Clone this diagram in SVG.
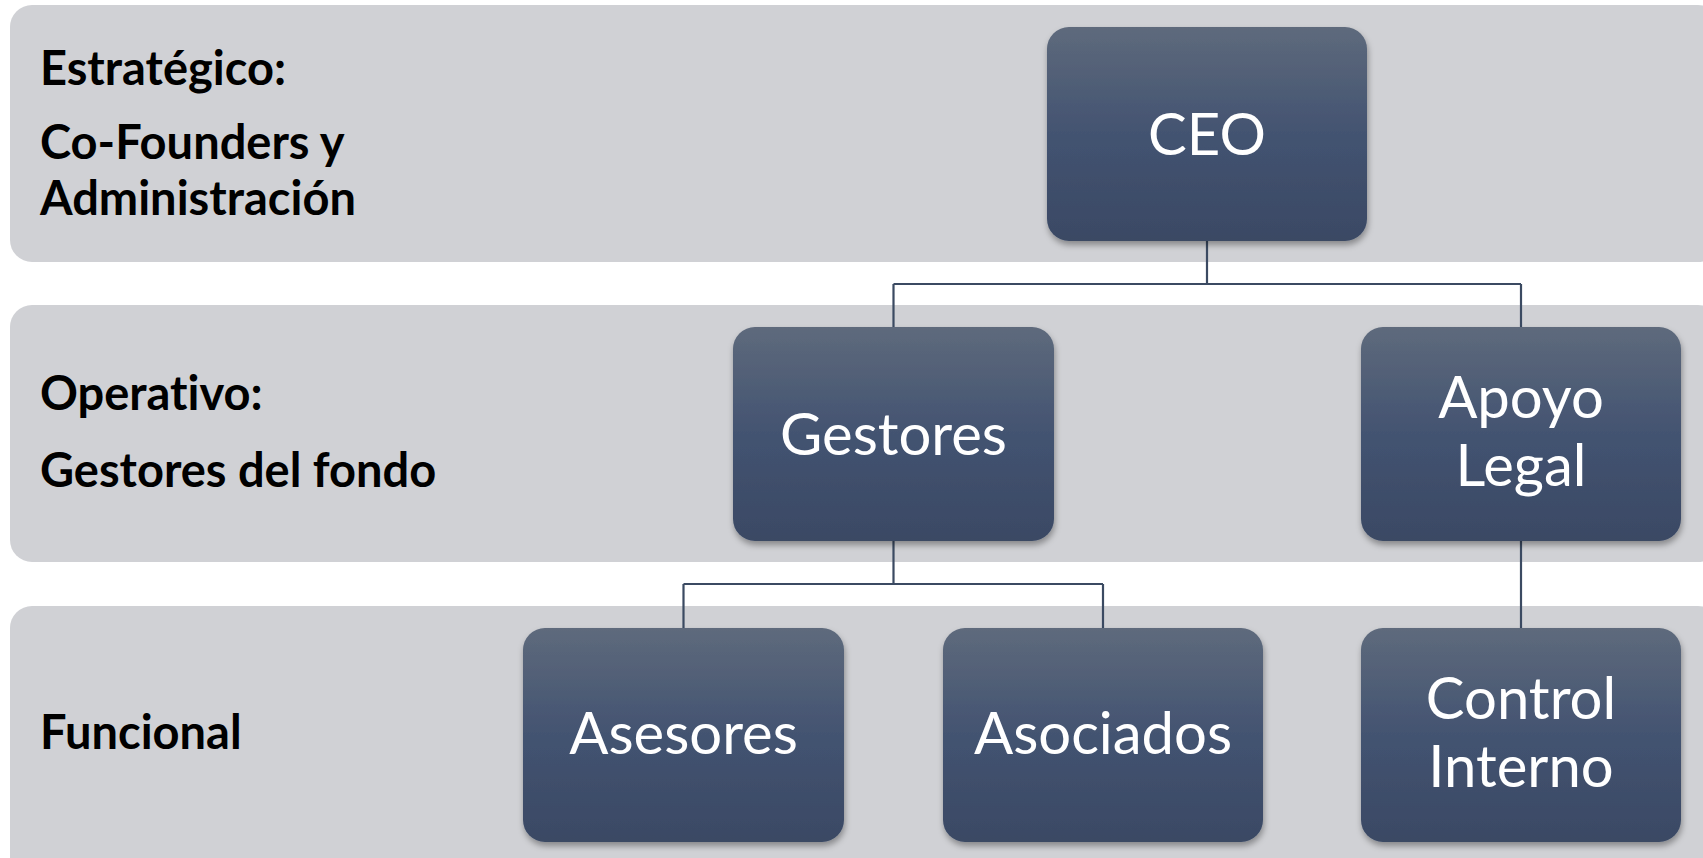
<svg xmlns="http://www.w3.org/2000/svg" width="1703" height="858" viewBox="0 0 1703 858">
<defs>
<linearGradient id="ng" x1="0" y1="0" x2="0" y2="1">
<stop offset="0" stop-color="#5e6a7c"/>
<stop offset="0.5" stop-color="#435371"/>
<stop offset="1" stop-color="#3a4964"/>
</linearGradient>
<filter id="sh" x="-10%" y="-10%" width="125%" height="125%">
<feDropShadow dx="1" dy="4" stdDeviation="3" flood-color="#000" flood-opacity="0.35"/>
</filter>
<style>
.band{fill:#d0d1d5;}
.node rect{fill:url(#ng);filter:url(#sh);}
.lbl{font-family:Lato,"Liberation Sans",sans-serif;font-weight:bold;font-size:47px;fill:#000;font-variant-ligatures:none;}
.nt{font-family:Lato,"Liberation Sans",sans-serif;font-size:58px;fill:#fff;text-anchor:middle;font-variant-ligatures:none;}
.conn{fill:none;stroke:#3b4a62;stroke-width:2.2;}
</style>
</defs>
<rect width="1703" height="858" fill="#fff"/>
<g id="bands">
<rect class="band" x="10" y="5" width="1710" height="257" rx="22"/>
<rect class="band" x="10" y="305" width="1710" height="257" rx="22"/>
<rect class="band" x="10" y="606" width="1710" height="280" rx="22"/>
</g>
<g id="labels">
<text class="lbl" x="40" y="85">Estratégico:</text>
<text class="lbl" x="40" y="159">Co-Founders y</text>
<text class="lbl" x="40" y="215">Administración</text>
<text class="lbl" x="40" y="410">Operativo:</text>
<text class="lbl" x="40" y="487">Gestores del fondo</text>
<text class="lbl" x="40" y="749">Funcional</text>
</g>
<g id="connectors">
<path class="conn" d="M1207 240 V284 M893.5 284 H1521 M893.5 284 V327 M1521 284 V327"/>
<path class="conn" d="M893.5 541 V584 M683.5 584 H1103 M683.5 584 V628 M1103 584 V628"/>
<path class="conn" d="M1521 541 V628"/>
</g>
<g id="ceo" class="node">
<rect x="1047" y="27" width="320" height="214" rx="22"/>
<text class="nt" x="1207" y="155">CEO</text>
</g>
<g id="gestores" class="node">
<rect x="733" y="327" width="321" height="214" rx="22"/>
<text class="nt" x="893.5" y="455">Gestores</text>
</g>
<g id="apoyo" class="node">
<rect x="1361" y="327" width="320" height="214" rx="22"/>
<text class="nt" x="1521" y="418">Apoyo</text>
<text class="nt" x="1521" y="486">Legal</text>
</g>
<g id="asesores" class="node">
<rect x="523" y="628" width="321" height="214" rx="22"/>
<text class="nt" x="683.5" y="754">Asesores</text>
</g>
<g id="asociados" class="node">
<rect x="943" y="628" width="320" height="214" rx="22"/>
<text class="nt" x="1103" y="754">Asociados</text>
</g>
<g id="control" class="node">
<rect x="1361" y="628" width="320" height="214" rx="22"/>
<text class="nt" x="1521" y="719">Control</text>
<text class="nt" x="1521" y="787">Interno</text>
</g>
</svg>
